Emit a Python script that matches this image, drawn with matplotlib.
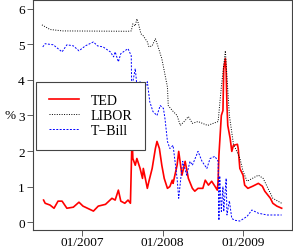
import matplotlib
matplotlib.use("Agg")
import matplotlib.pyplot as plt

# decimal years / percent
libor_t = [2006.50, 2006.60, 2006.76, 2007.57, 2007.61, 2007.63, 2007.66, 2007.68, 2007.70,
           2007.73, 2007.76, 2007.81, 2007.83, 2007.87, 2007.91, 2007.94, 2007.99, 2008.06,
           2008.07, 2008.12, 2008.18, 2008.22, 2008.28, 2008.32, 2008.37, 2008.44, 2008.56,
           2008.69, 2008.73, 2008.78, 2008.83, 2008.88, 2008.96, 2009.00, 2009.05, 2009.19,
           2009.25, 2009.37, 2009.48]
libor_v = [5.55, 5.42, 5.38, 5.37, 5.38, 5.58, 5.52, 5.72, 5.58,
           5.30, 5.24, 5.07, 4.93, 4.96, 5.16, 4.96, 4.60, 3.80,
           3.28, 3.14, 3.00, 2.72, 2.86, 2.97, 2.78, 2.83, 2.72,
           2.83, 3.80, 4.82, 3.00, 2.20, 1.80, 1.43, 1.15, 1.32,
           1.23, 0.67, 0.53]

tbill_t = [2006.51, 2006.54, 2006.64, 2006.75, 2006.81, 2006.89, 2006.96, 2007.04, 2007.14,
           2007.19, 2007.26, 2007.35, 2007.39, 2007.41, 2007.45, 2007.48, 2007.53, 2007.57,
           2007.61, 2007.62, 2007.63, 2007.66, 2007.68, 2007.72, 2007.76, 2007.81, 2007.84,
           2007.88, 2007.93, 2007.97, 2008.01, 2008.03, 2008.06, 2008.09, 2008.13, 2008.18,
           2008.20, 2008.23, 2008.25, 2008.30, 2008.34, 2008.37, 2008.44, 2008.49, 2008.55,
           2008.59, 2008.65, 2008.69, 2008.70, 2008.71, 2008.73, 2008.75, 2008.76, 2008.79,
           2008.80, 2008.83, 2008.86, 2008.90, 2008.96, 2009.05, 2009.11, 2009.19, 2009.30,
           2009.37, 2009.48]
tbill_v = [4.93, 5.02, 4.99, 4.79, 4.99, 4.96, 4.82, 4.96, 5.07,
           4.96, 4.93, 4.79, 4.65, 4.79, 4.51, 4.74, 4.82, 4.88,
           4.68, 3.00, 3.95, 4.32, 3.84, 3.95, 3.67, 3.95, 3.39,
           3.11, 3.00, 3.28, 3.20, 2.90, 2.27, 2.07, 2.16, 1.23,
           0.67, 1.32, 1.71, 1.32, 1.71, 1.60, 1.99, 1.71, 1.51,
           1.79, 1.85, 1.71, 0.05, 1.30, 0.30, 1.00, 0.30, 1.23,
           0.20, 0.60, 0.10, 0.05, 0.03, 0.16, 0.34, 0.25, 0.20,
           0.20, 0.20]

ted_t = [2006.52, 2006.54, 2006.60, 2006.65, 2006.70, 2006.75, 2006.81, 2006.89, 2006.96,
         2007.01, 2007.14, 2007.20, 2007.29, 2007.37, 2007.41, 2007.45, 2007.48, 2007.53,
         2007.57, 2007.60, 2007.62, 2007.63, 2007.66, 2007.68, 2007.72, 2007.75, 2007.76,
         2007.81, 2007.83, 2007.87, 2007.91, 2007.93, 2007.96, 2007.99, 2008.02, 2008.06,
         2008.09, 2008.12, 2008.13, 2008.18, 2008.20, 2008.24, 2008.28, 2008.32, 2008.37,
         2008.40, 2008.44, 2008.50, 2008.53, 2008.57, 2008.61, 2008.65, 2008.68, 2008.69,
         2008.70, 2008.73, 2008.75, 2008.76, 2008.78, 2008.79, 2008.80, 2008.81, 2008.84,
         2008.86, 2008.88, 2008.93, 2008.94, 2008.96, 2009.00, 2009.02, 2009.06, 2009.12,
         2009.19, 2009.24, 2009.27, 2009.34, 2009.37, 2009.42, 2009.48]
ted_v = [0.62, 0.53, 0.48, 0.39, 0.59, 0.59, 0.39, 0.42, 0.56,
         0.45, 0.31, 0.45, 0.50, 0.67, 0.62, 0.90, 0.59, 0.53,
         0.62, 0.53, 2.44, 1.79, 1.60, 1.79, 1.51, 1.23, 1.51,
         0.95, 1.15, 1.51, 2.07, 2.27, 2.07, 1.60, 1.23, 0.95,
         1.00, 1.18, 1.09, 1.60, 1.99, 1.32, 1.71, 1.23, 0.95,
         0.87, 0.95, 0.95, 1.18, 1.04, 1.15, 1.01, 0.90, 1.15,
         1.88, 3.00, 3.14, 4.32, 4.60, 4.23, 3.28, 2.72, 2.35,
         1.99, 2.16, 2.19, 2.07, 1.51, 1.32, 1.04, 0.95, 1.01,
         1.09, 1.01, 0.87, 0.67, 0.53, 0.45, 0.39]

year_ticks = [2007, 2008, 2009]
year_labels = ["01/2007", "01/2008", "01/2009"]

plt.rcParams["font.family"] = ["Liberation Serif", "DejaVu Serif"]
plt.rcParams["font.size"] = 9.5

fig = plt.figure(figsize=(2.93, 2.51), dpi=100)
ax = fig.add_axes([0.113, 0.08, 0.884, 0.916])

ax.plot(ted_t, ted_v, color="red", lw=1.2, label="TED")
ax.plot(libor_t, libor_v, color="black", lw=0.7, ls=(0, (1, 1.5)), label="LIBOR")
ax.plot(tbill_t, tbill_v, color="blue", lw=0.7, ls=(0, (2, 1.5)), label="T\u2212Bill")

ax.set_xlim(2006.39, 2009.61)
ax.set_ylim(-0.22, 6.25)
ax.set_yticks(range(0, 7))
ax.set_xticks(year_ticks)
ax.set_xticklabels(year_labels)
ax.set_ylabel("%", rotation=0, labelpad=6, va="center")
ax.tick_params(direction="out", length=4, width=0.6, color="#444444", pad=2)
ax.tick_params(axis="x", pad=0.5)
for s in ax.spines.values():
    s.set_linewidth(0.8)
    s.set_color("#444444")

leg = ax.legend(loc="upper left", bbox_to_anchor=(0.012, 0.645), fancybox=False,
                edgecolor="#444444", framealpha=1, handlelength=2.2, handletextpad=0.8,
                borderpad=0.9, labelspacing=0.15, borderaxespad=0, fontsize=10)
leg.get_frame().set_linewidth(0.8)

fig.savefig("out.png", dpi=100)
